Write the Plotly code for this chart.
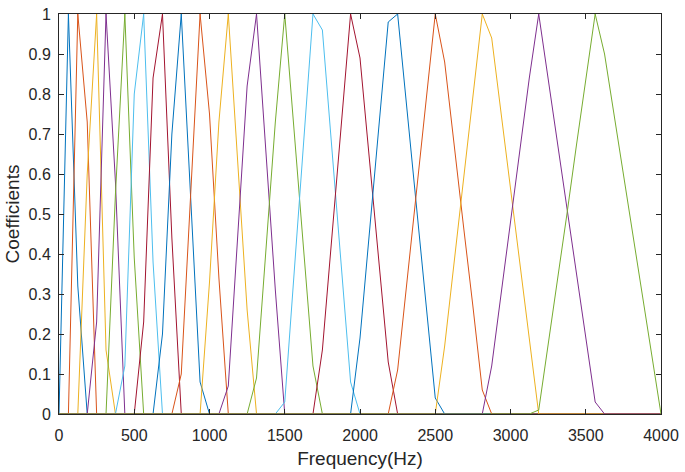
import plotly.graph_objects as go

# FFT bin frequencies (Hz), 8 kHz sampling, 62.5 Hz spacing
bin_hz = [0, 62.5, 125, 187.5, 250, 312.5, 375, 437.5, 500, 562.5, 625, 687.5,
          750, 812.5, 875, 937.5, 1000, 1062.5, 1125, 1187.5, 1250, 1312.5, 1375,
          1437.5, 1500, 1562.5, 1625, 1687.5, 1750, 1812.5, 1875, 1937.5, 2000,
          2062.5, 2125, 2187.5, 2250, 2312.5, 2375, 2437.5, 2500, 2562.5, 2625,
          2687.5, 2750, 2812.5, 2875, 2937.5, 3000, 3062.5, 3125, 3187.5, 3250,
          3312.5, 3375, 3437.5, 3500, 3562.5, 3625, 3687.5, 3750, 3812.5, 3875,
          3937.5, 4000]

# index of first bin listed for each filter, and its coefficients from there on
first_bin = [0, 1, 2, 3, 5, 6, 8, 10, 12, 15, 17, 20, 23, 27, 31, 35, 40, 45, 50]
coefficients = [
    [0, 1, 0.32, 0],
    [0, 1, 0.73, 0],
    [0, 0.60, 1, 0.16, 0],
    [0, 0.23, 1, 0.58, 0],
    [0, 0.55, 1, 0.39, 0],
    [0, 0.12, 0.80, 1, 0.38, 0],
    [0, 0.23, 0.84, 1, 0.44, 0],
    [0, 0.20, 0.70, 1, 0.54, 0.08, 0],
    [0, 0.10, 0.55, 1, 0.75, 0.34, 0],
    [0, 0.33, 0.73, 1, 0.63, 0.26, 0],
    [0, 0.07, 0.45, 0.82, 1, 0.66, 0.31, 0],
    [0, 0.09, 0.41, 0.73, 1, 0.71, 0.41, 0.12, 0],
    [0, 0.03, 0.35, 0.68, 1, 0.96, 0.67, 0.37, 0.08, 0],
    [0, 0.16, 0.44, 0.72, 1, 0.89, 0.64, 0.38, 0.13, 0],
    [0, 0.19, 0.45, 0.72, 0.98, 1, 0.76, 0.52, 0.28, 0.04, 0],
    [0, 0.11, 0.33, 0.55, 0.78, 1, 0.88, 0.67, 0.47, 0.27, 0.06, 0],
    [0, 0.17, 0.38, 0.58, 0.79, 1, 0.94, 0.75, 0.56, 0.37, 0.18, 0],
    [0, 0.12, 0.30, 0.48, 0.66, 0.84, 1, 0.84, 0.68, 0.51, 0.35, 0.19, 0.03, 0],
    [0, 0.01, 0.17, 0.34, 0.50, 0.67, 0.83, 1, 0.90, 0.75, 0.60, 0.45, 0.30, 0.15, 0],
]

x_ticks = [0, 500, 1000, 1500, 2000, 2500, 3000, 3500, 4000]
y_ticks = [0, 0.1, 0.2, 0.3, 0.4, 0.5, 0.6, 0.7, 0.8, 0.9, 1]
y_tick_text = ["0", "0.1", "0.2", "0.3", "0.4", "0.5", "0.6", "0.7", "0.8", "0.9", "1"]

colors = ["#0072BD", "#D95319", "#EDB120", "#7E2F8E", "#77AC30", "#4DBEEE", "#A2142F"]

fig = go.Figure()
for i, (start, vals) in enumerate(zip(first_bin, coefficients)):
    y = [0.0] * len(bin_hz)
    for j, v in enumerate(vals):
        y[start + j] = v
    fig.add_trace(go.Scatter(
        x=bin_hz, y=y, mode="lines",
        line=dict(color=colors[i % len(colors)], width=1),
        showlegend=False, hoverinfo="skip",
    ))

axis_color = "#262626"
font_family = "Liberation Sans, Arial"
common = dict(
    showline=True, linecolor=axis_color, linewidth=1, mirror="ticks",
    ticks="inside", ticklen=5, tickwidth=1, tickcolor=axis_color,
    showgrid=False, zeroline=False, ticklabeloverflow="allow",
    tickfont=dict(family=font_family, size=16, color=axis_color),
)

fig.update_xaxes(range=[0, 4000], tickvals=x_ticks,
                 ticktext=[str(t) for t in x_ticks], ticklabelstandoff=7,
                 title=dict(text="Frequency(Hz)", standoff=8,
                            font=dict(family=font_family, size=19, color=axis_color)),
                 **common)
fig.update_yaxes(range=[0, 1], tickvals=y_ticks, ticktext=y_tick_text,
                 ticklabelstandoff=4,
                 title=dict(text="Coefficients", standoff=3,
                            font=dict(family=font_family, size=19, color=axis_color)),
                 **common)

fig.update_layout(
    width=685, height=472,
    margin=dict(l=59, r=20, t=6, b=57),
    paper_bgcolor="white", plot_bgcolor="white",
)

fig.write_html("out.html")
